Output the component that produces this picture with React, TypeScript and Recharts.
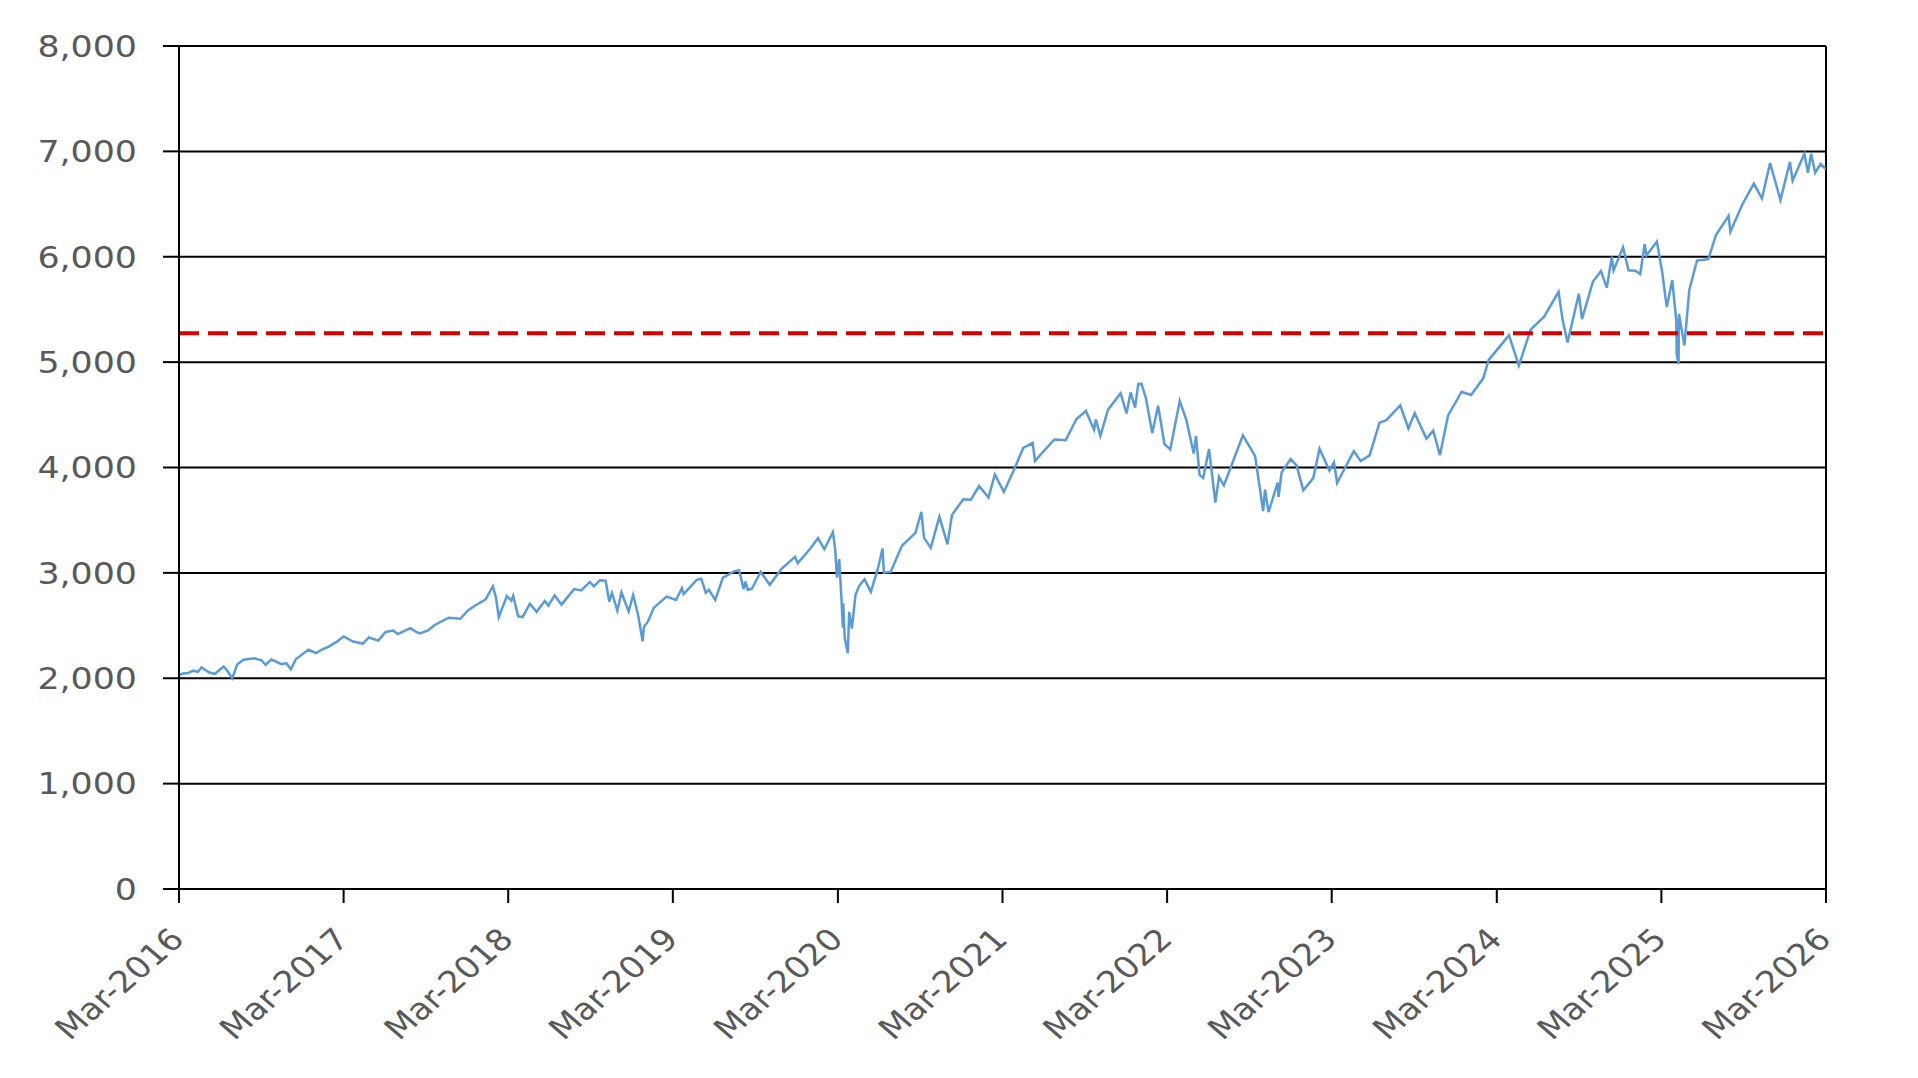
import React from "react";
import { LineChart, Line, XAxis, YAxis, CartesianGrid, ReferenceLine } from "recharts";

const dates: string[] = [
  "2016-03-01","2016-03-10","2016-03-22","2016-04-01","2016-04-12","2016-04-20","2016-05-06","2016-05-19","2016-06-08","2016-06-16","2016-06-27","2016-07-08","2016-07-22","2016-08-15","2016-08-31","2016-09-09","2016-09-22","2016-10-14","2016-10-25","2016-11-04","2016-11-15","2016-12-13","2016-12-30",
  "2017-01-13","2017-01-26","2017-02-15","2017-03-01","2017-03-22","2017-04-13","2017-04-26","2017-05-17","2017-06-02","2017-06-19","2017-06-29","2017-07-27","2017-08-10","2017-08-18","2017-09-05","2017-09-20","2017-10-20","2017-11-15","2017-12-01","2017-12-18",
  "2018-01-10","2018-01-26","2018-02-02","2018-02-08","2018-02-26","2018-03-08","2018-03-12","2018-03-23","2018-04-02","2018-04-18","2018-05-03","2018-05-21","2018-05-29","2018-06-12","2018-06-27","2018-07-25","2018-08-10","2018-08-29","2018-09-07","2018-09-20","2018-10-03","2018-10-11","2018-10-17","2018-10-29","2018-11-07","2018-11-23","2018-12-03","2018-12-14","2018-12-24","2018-12-27",
  "2019-01-04","2019-01-18","2019-02-15","2019-03-08","2019-03-21","2019-03-25","2019-04-23","2019-05-03","2019-05-13","2019-05-20","2019-06-03","2019-06-20","2019-07-15","2019-07-26","2019-08-05","2019-08-09","2019-08-14","2019-08-23","2019-09-12","2019-10-02","2019-10-28","2019-11-27","2019-12-03","2019-12-31",
  "2020-01-17","2020-01-31","2020-02-19","2020-02-24","2020-02-28","2020-03-04","2020-03-09","2020-03-12","2020-03-13","2020-03-16","2020-03-23","2020-03-26","2020-04-01","2020-04-09","2020-04-17","2020-04-29","2020-05-13","2020-05-29","2020-06-08","2020-06-11","2020-06-26","2020-07-21","2020-08-20","2020-09-02","2020-09-08","2020-09-23","2020-10-12","2020-10-30","2020-11-09","2020-12-04","2020-12-21",
  "2021-01-08","2021-01-29","2021-02-12","2021-03-04","2021-03-26","2021-04-16","2021-05-07","2021-05-12","2021-06-24","2021-07-19","2021-08-12","2021-09-02","2021-09-20","2021-09-24","2021-10-04","2021-10-21","2021-11-18","2021-12-01","2021-12-10","2021-12-20","2021-12-27",
  "2022-01-03","2022-01-13","2022-01-27","2022-02-09","2022-02-23","2022-03-08","2022-03-29","2022-04-13","2022-04-29","2022-05-04","2022-05-12","2022-05-20","2022-06-02","2022-06-16","2022-06-24","2022-07-05","2022-08-16","2022-09-12","2022-09-30","2022-10-04","2022-10-12","2022-11-01","2022-11-03","2022-11-10","2022-11-30","2022-12-13","2022-12-28",
  "2023-01-19","2023-02-02","2023-02-24","2023-03-06","2023-03-13","2023-04-19","2023-05-04","2023-05-24","2023-06-15","2023-06-30","2023-07-31","2023-08-18","2023-09-01","2023-09-27","2023-10-12","2023-10-27","2023-11-14","2023-12-14",
  "2024-01-04","2024-01-31","2024-02-12","2024-03-28","2024-04-19","2024-05-15","2024-06-14","2024-07-16","2024-07-25","2024-08-05","2024-08-30","2024-09-06","2024-09-30","2024-10-18","2024-10-31","2024-11-11","2024-11-15","2024-12-06","2024-12-18",
  "2025-01-02","2025-01-13","2025-01-23","2025-01-27","2025-02-19","2025-03-03","2025-03-10","2025-03-13","2025-03-25","2025-04-03","2025-04-04","2025-04-08","2025-04-09","2025-04-21","2025-05-02","2025-05-19","2025-06-13","2025-06-30","2025-07-28","2025-08-01","2025-08-28","2025-09-22","2025-10-10","2025-10-28","2025-11-20","2025-12-11","2025-12-17",
  "2026-01-12","2026-01-20","2026-01-27","2026-02-05","2026-02-17","2026-03-01",
];

const indexValues: number[] = [
  2030,2045,2050,2072,2061,2102,2057,2040,2112,2071,2000,2130,2175,2190,2170,2128,2177,2133,2143,2085,2180,2272,2239,
  2275,2298,2350,2396,2348,2329,2387,2357,2439,2453,2419,2475,2438,2425,2457,2508,2575,2565,2642,2690,
  2748,2873,2762,2581,2779,2738,2783,2588,2581,2708,2630,2733,2690,2786,2699,2846,2833,2914,2872,2930,2925,2728,2809,2641,2814,2633,2790,2600,2351,2488,
  2532,2670,2775,2743,2854,2798,2934,2945,2812,2840,2744,2954,3014,3025,2844,2918,2840,2847,3009,2887,3039,3153,3093,3231,
  3330,3226,3386,3226,2954,3130,2747,2481,2711,2386,2237,2630,2471,2790,2875,2940,2820,3044,3232,3002,3009,3257,3380,3580,3332,3237,3534,3270,3550,3699,3694,
  3824,3714,3934,3768,3974,4185,4232,4063,4266,4258,4460,4537,4358,4455,4300,4549,4704,4513,4712,4568,4791,
  4796,4659,4326,4587,4225,4170,4631,4447,4132,4300,3930,3901,4176,3667,3912,3831,4305,4110,3586,3791,3577,3856,3720,3956,4080,4020,3783,
  3899,4179,3970,4048,3855,4155,4061,4115,4426,4450,4589,4370,4516,4274,4350,4117,4495,4719,
  4688,4846,5021,5254,4967,5308,5431,5667,5399,5186,5648,5408,5762,5864,5705,6001,5870,6090,5872,
  5868,5836,6119,6012,6144,5849,5614,5522,5777,5397,5074,4983,5457,5158,5687,5964,5977,6205,6389,6238,6501,6694,6552,6890,6538,6901,6721,
  6977,6797,6978,6798,6880,6830,
];

const tickYears: number[] = [2016, 2017, 2018, 2019, 2020, 2021, 2022, 2023, 2024, 2025, 2026];
const yTicks: number[] = [0, 1000, 2000, 3000, 4000, 5000, 6000, 7000, 8000];
const referenceLevel = 5275;

const data = dates.map((d, i) => ({ t: Date.parse(d + "T00:00:00Z"), v: indexValues[i] }));
const xTicks = tickYears.map((y) => Date.UTC(y, 2, 1));
const xStart = xTicks[0];
const xEnd = xTicks[xTicks.length - 1];

const STRETCH = 1.16;
const FONT = "'DejaVu Sans', Verdana, sans-serif";
const TEXT_COLOR = "#595959";

const fmtNum = (v: number) => v.toLocaleString("en-US");
const fmtDate = (t: number) => "Mar-" + new Date(t).getUTCFullYear();

const YTick = (props: any) => {
  const { x, y, payload } = props;
  return (
    <g transform={`translate(${x - 26},${y}) scale(${STRETCH},1)`}>
      <text x={0} y={0} dy="0.36em" textAnchor="end" fill={TEXT_COLOR} fontSize={30} fontFamily={FONT}>
        {fmtNum(payload.value)}
      </text>
    </g>
  );
};

const XTick = (props: any) => {
  const { x, y, payload } = props;
  return (
    <g transform={`translate(${x + 7},${y + 38}) scale(${STRETCH},1) rotate(-45)`}>
      <text x={0} y={0} textAnchor="end" fill={TEXT_COLOR} fontSize={30} fontFamily={FONT}>
        {fmtDate(payload.value)}
      </text>
    </g>
  );
};

export default function App() {
  return (
    <div style={{ position: "absolute", left: 0, top: 0, width: 1918, height: 1078, background: "#fff" }}>
      <LineChart width={1918} height={1078} data={data} margin={{ top: 46, right: 92, bottom: 0, left: 0 }}>
        <CartesianGrid vertical={false} stroke="#000" strokeWidth={2} />
        <XAxis
          dataKey="t"
          type="number"
          scale="time"
          domain={[xStart, xEnd]}
          ticks={xTicks}
          interval={0}
          height={189}
          tickSize={14}
          tickMargin={0}
          tick={<XTick />}
          axisLine={{ stroke: "#000", strokeWidth: 2 }}
          tickLine={{ stroke: "#000", strokeWidth: 2 }}
          allowDataOverflow
        />
        <YAxis
          type="number"
          domain={[0, 8000]}
          ticks={yTicks}
          interval={0}
          width={179}
          tickSize={16}
          tickMargin={0}
          tick={<YTick />}
          axisLine={{ stroke: "#000", strokeWidth: 2 }}
          tickLine={{ stroke: "#000", strokeWidth: 2 }}
        />
        <ReferenceLine x={xEnd} stroke="#000" strokeWidth={2} />
        <Line
          type="linear"
          dataKey="v"
          stroke="#5B9BD5"
          strokeWidth={2.5}
          dot={false}
          isAnimationActive={false}
        />
        <ReferenceLine y={referenceLevel} stroke="#D40000" strokeWidth={4} strokeDasharray="20 9" />
      </LineChart>
    </div>
  );
}
